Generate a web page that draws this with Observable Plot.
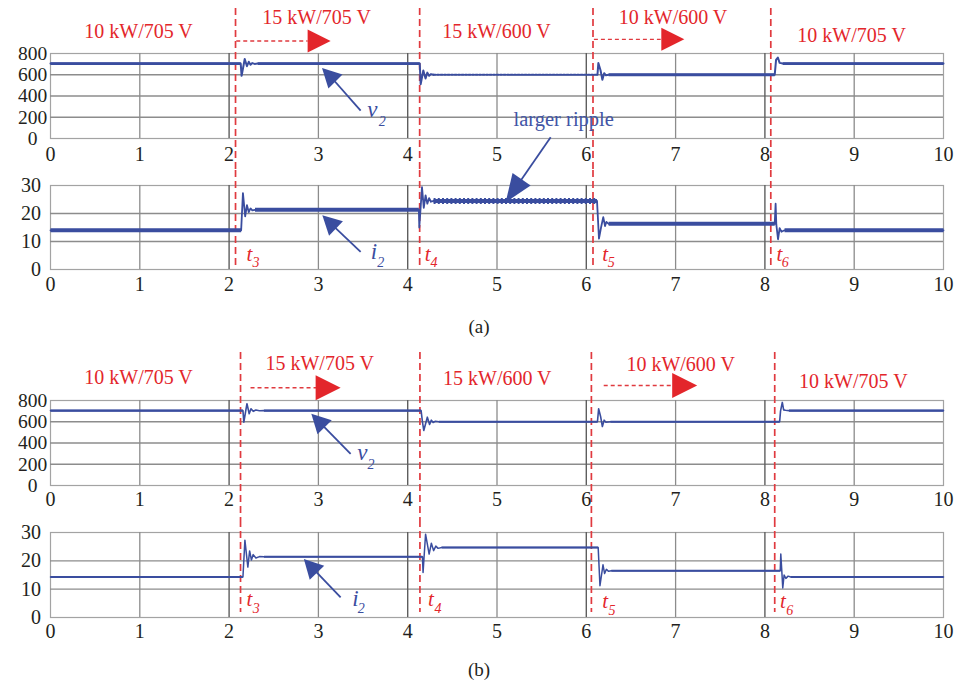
<!DOCTYPE html>
<html><head><meta charset="utf-8">
<script src="https://cdn.jsdelivr.net/npm/d3@7"></script>
<script src="https://cdn.jsdelivr.net/npm/@observablehq/plot@0.6"></script>
<style>
body{margin:0;background:#fff;}
#wrap{position:relative;width:955px;height:688px;font-family:"Liberation Serif",serif;overflow:hidden;}
#wrap > div.panel{position:absolute;left:0;width:955px;}
.cap{position:absolute;left:0;width:958px;text-align:center;font-size:19px;line-height:19px;color:#231f20;}
g[aria-label="vtick"] text{letter-spacing:3px;}
</style></head><body><div id="wrap"></div>
<script>
// ---------- tick labels ----------
const xTicks = [0,1,2,3,4,5,6,7,8,9,10];
const vTicks = [0,200,400,600,800];
const iTicks = [0,10,20,30];
const switchTimes = [2,4,6,8];

// ---------- event (red dashed) times ----------
const eventsA = [2.072, 4.134, 6.075, 8.066];
const eventsB = [2.128, 4.137, 6.057, 8.11];

// ---------- (a) series: time [s], v2 [V] / i2 [A] ----------
const aVolt = [[0,705],[2.13,705],[2.14,590],[2.175,748],[2.2,680],[2.22,722],[2.24,695],[2.26,710],[2.285,702],[2.32,705],
  [4.135,705],[4.145,510],[4.175,640],[4.2,565],[4.22,620],[4.24,590],[4.26,606],[4.29,600],
  [6.125,600],[6.135,710],[6.16,640],[6.18,552],[6.2,615],[6.22,595],[6.25,600],
  [8.11,600],[8.125,740],[8.145,762],[8.165,712],[8.2,705],[10,705]];
const aCurr = [[0,14],[2.135,14],[2.155,27.3],[2.18,19],[2.2,23],[2.22,20.5],[2.24,21.8],[2.26,21.1],[2.29,21.3],
  [4.125,21.3],[4.13,15],[4.16,29.4],[4.18,22],[4.2,26.5],[4.22,23.5],[4.24,25.5],[4.26,24.2],[4.29,24.5],
  [6.12,24.5],[6.142,11],[6.165,15],[6.19,18.7],[6.21,15.5],[6.225,17],[6.25,16.3],
  [8.11,16.3],[8.12,23.5],[8.128,16],[8.147,10.8],[8.165,14.8],[8.185,13.5],[8.22,14],[10,14]];
const aRipple = [4.29, 6.125];

// ---------- (b) series ----------
const bVolt = [[0,705],[2.155,705],[2.165,596],[2.2,770],[2.225,675],[2.245,722],[2.27,698],[2.3,710],[2.34,703],[2.39,705],
  [4.15,705],[4.165,600],[4.18,518],[4.22,643],[4.245,575],[4.265,615],[4.285,593],[4.31,604],[4.35,600],
  [6.125,600],[6.138,722],[6.16,650],[6.18,555],[6.2,615],[6.22,595],[6.27,600],
  [8.165,600],[8.175,700],[8.195,782],[8.21,712],[8.23,708],[8.27,705],[10,705]];
const bCurr = [[0,14.3],[2.155,14.3],[2.177,27.3],[2.21,17.8],[2.23,23.5],[2.25,20.3],[2.27,22.2],[2.3,21],[2.34,21.5],[2.39,21.4],
  [4.165,21.4],[4.172,15.9],[4.2,29.4],[4.24,22.4],[4.265,26.2],[4.29,23.6],[4.315,25.2],[4.34,24.4],[4.38,24.7],
  [6.133,24.7],[6.153,11.2],[6.187,18.6],[6.205,15.5],[6.225,17],[6.25,16.3],[6.28,16.5],
  [8.172,16.5],[8.178,22.4],[8.19,16],[8.2,10.4],[8.215,15],[8.235,13.8],[8.26,14.6],[8.29,14.3],[10,14.3]];

// ---------- annotations ----------
const stageA = [
  {label:"10 kW/705 V", t:0.986, v:1002},{label:"15 kW/705 V", t:2.98, v:1139},
  {label:"15 kW/600 V", t:4.994, v:1002},{label:"10 kW/600 V", t:6.971, v:1139},
  {label:"10 kW/705 V", t:8.971, v:973}];
const stageB = [
  {label:"10 kW/705 V", t:0.986, v:1012},{label:"15 kW/705 V", t:3.015, v:1145},
  {label:"15 kW/600 V", t:5.003, v:1007},{label:"10 kW/600 V", t:7.057, v:1142},
  {label:"10 kW/705 V", t:8.99, v:981}];
const redArrowsA = [{t1:2.08, t2:2.879, ht:2.965, v:917},{t1:6.085, t2:6.833, ht:6.926, v:933}];
const redArrowsB = [{t1:2.24, t2:2.988, ht:3.062, v:920},{t1:6.195, t2:6.964, ht:7.055, v:941}];

const arrowAV = [{x1:3.473, y1:263, x2:3.141, y2:579, angle:-45}];
const arrowAI = [{x1:3.473, y1:6.26, x2:3.146, y2:16.2, angle:-46}];
const arrowBV = [{x1:3.361, y1:298, x2:3.02, y2:590, angle:-44.5}];
const arrowBI = [{x1:3.249, y1:7.06, x2:2.935, y2:17.4, angle:-43.7}];
const arrowRipple = [{x1:5.601, y1:47.2, x2:5.216, y2:29.5, angle:-145.3}];
const rippleNote = [{label:"larger ripple", t:5.747, v:181}];

const symAV = [{s:"v", sub:"2", t:3.548, v:269, st:3.675, sv:160}];
const symAI = [{s:"i", sub:"2", t:3.585, v:6.55, st:3.66, sv:2.5}];
const symBV = [{s:"v", sub:"2", t:3.436, v:305, st:3.55, sv:200}];
const symBI = [{s:"i", sub:"2", t:3.38, v:6.74, st:3.44, sv:3.3}];
const tLabA = [{s:"t",sub:"3",t:2.196,v:5.5,st:2.262,sv:2.45},{s:"t",sub:"4",t:4.19,v:5.5,st:4.254,sv:2.45},
               {s:"t",sub:"5",t:6.18,v:5.4,st:6.241,sv:2.35},{s:"t",sub:"6",t:8.129,v:5.4,st:8.19,sv:2.35}];
const tLabB = [{s:"t",sub:"3",t:2.196,v:6.3,st:2.264,sv:3.1},{s:"t",sub:"4",t:4.227,v:6.3,st:4.299,sv:3.1},
               {s:"t",sub:"5",t:6.18,v:5.8,st:6.248,sv:2.6},{s:"t",sub:"6",t:8.17,v:5.8,st:8.239,sv:2.6}];

// ---------- styles ----------
const blue = "#3a4d9f", red = "#e3262b", redDash = "#e03a3f", gridC = "#8c8c8c", darkC = "#5e5e5e";
function head(len, wid){ return {draw(ctx){ ctx.moveTo(0,-2*len/3); ctx.lineTo(wid/2,len/3); ctx.lineTo(-wid/2,len/3); ctx.closePath(); }}; }
function steady(series, minDt){ const out=[]; for(let i=0;i<series.length-1;i++){ const a=series[i], b=series[i+1]; if(a[1]===b[1] && b[0]-a[0]>minDt) out.push({t1:a[0],t2:b[0],y:a[1]}); } return out; }
function seg(series, win){ return series.map(d=>({t:d[0], y:d[1], z: d[0]<=win[0]?0:(d[0]>=win[1]?2:1)})); }

const wrap = document.getElementById("wrap");
function panel(o){
  const inner = xTicks.filter(t=>t>0&&t<10&&!switchTimes.includes(t));
  const marks = [
    Plot.frame({stroke:"#a3a3a3", strokeWidth:1.2}),
    Plot.ruleY(o.ticks.slice(1,-1), {stroke:gridC, strokeWidth:1.4}),
    Plot.ruleX(inner, {stroke:gridC, strokeWidth:1.3}),
    Plot.ruleX(switchTimes, {stroke:darkC, strokeWidth:1.4}),
    Plot.ruleX(o.events, {stroke:redDash, strokeWidth:1.7, strokeDasharray:"7,4", insetTop:o.evTop, insetBottom:o.evBottom}),
    ...o.marks,
    Plot.text(o.ticks, {y:d=>d, text:d=>String(d), frameAnchor:"left", dx:o.yDx, textAnchor:o.yAnchor, fontSize:o.yFs, fill:"#231f20", ariaLabel:o.yAria}),
    Plot.text(xTicks, {x:d=>d, text:d=>String(d), frameAnchor:"bottom", dy:o.xDy, fontSize:20, fill:"#231f20"})
  ];
  const svg = Plot.plot({
    width:955, height:o.height, marginLeft:50, marginRight:12, marginTop:o.mt, marginBottom:o.mb,
    x:{domain:[0,10], axis:null, label:null},
    y:{domain:o.domain, axis:null, label:null},
    style:"background:transparent;overflow:visible;font-family:'Liberation Serif',serif;font-size:19px;color:#231f20;",
    marks
  });
  const div = document.createElement("div"); div.className="panel"; div.style.top=o.top+"px"; div.appendChild(svg); wrap.appendChild(div);
}
function stageMarks(stages, arrows, len){
  return [
    Plot.text(stages, {x:"t", y:"v", text:"label", fill:red, fontSize:20}),
    Plot.link(arrows, {x1:"t1", x2:"t2", y1:"v", y2:"v", stroke:redDash, strokeWidth:1.4, strokeDasharray:"4,3"}),
    Plot.dot(arrows, {x:"ht", y:"v", r:5, symbol:head(len,len), rotate:90, fill:red, stroke:"none"})
  ];
}
function blueArrow(a, len, wid){
  return [
    Plot.link(a, {x1:"x1", y1:"y1", x2:"x2", y2:"y2", stroke:blue, strokeWidth:1.8}),
    Plot.dot(a, {x:"x2", y:"y2", r:5, symbol:head(len,wid), rotate:"angle", fill:blue, stroke:"none"})
  ];
}
function symLabels(arr, color, fs, subFs){
  return [
    Plot.text(arr, {x:"t", y:"v", text:"s", fill:color, fontSize:fs, fontStyle:"italic", textAnchor:"start"}),
    Plot.text(arr, {x:"st", y:"sv", text:"sub", fill:color, fontSize:subFs, fontStyle:"italic", textAnchor:"start"})
  ];
}

// ----- (a) voltage -----
const aV = seg(aVolt, aRipple);
panel({top:0, height:170, mt:53, mb:32, domain:[0,800], ticks:vTicks, events:eventsA, evTop:-45, evBottom:-32,
  yDx:-18, yAnchor:"middle", yFs:19.5, yAria:"vtick", xDy:22,
  marks:[
    Plot.line(aV.filter(d=>d.z!==1 || d.t===aRipple[0] || d.t===aRipple[1]).map(d=>({...d, z: d.z===1 ? (d.t===aRipple[0]?0:2) : d.z})), {x:"t", y:"y", z:"z", stroke:blue, strokeWidth:2}),
    Plot.link(steady(aVolt,0.3).filter(s=>!(s.t1>=aRipple[0]&&s.t2<=aRipple[1])), {x1:"t1", x2:"t2", y1:"y", y2:"y", stroke:blue, strokeWidth:2.8}),
    Plot.line(aV.filter(d=>d.t>=aRipple[0]&&d.t<=aRipple[1]), {x:"t", y:"y", stroke:blue, strokeWidth:2, strokeDasharray:"2,1.5"}),
    ...stageMarks(stageA, redArrowsA, 23),
    ...blueArrow(arrowAV, 19, 20),
    ...symLabels(symAV, blue, 23, 14),
    Plot.text(rippleNote, {x:"t", y:"v", text:"label", fill:"#4255a6", fontSize:20.5})
  ]});

// ----- (a) current -----
const aRip = steady(aCurr,0.3).filter(s=>s.t1>=aRipple[0]-0.01);
panel({top:170, height:134, mt:15, mb:35, domain:[0,30], ticks:iTicks, events:eventsA, evTop:-15, evBottom:4,
  yDx:-9.5, yAnchor:"end", yFs:20, yAria:"itick", xDy:21,
  marks:[
    Plot.line(aCurr, {x:d=>d[0], y:d=>d[1], stroke:blue, strokeWidth:1.8}),
    Plot.link(steady(aCurr,0.3), {x1:"t1", x2:"t2", y1:"y", y2:"y", stroke:blue, strokeWidth:4}),
    Plot.link(aRip.filter(s=>s.t2<=aRipple[1]+0.01), {x1:"t1", x2:"t2", y1:"y", y2:"y", stroke:blue, strokeWidth:6, strokeDasharray:"2,2.2"}),
    ...symLabels(tLabA, red, 21, 14),
    ...blueArrow(arrowAI, 19, 20),
    ...symLabels(symAI, blue, 23, 14),
    ...blueArrow(arrowRipple, 28, 22)
  ]});

// ----- (b) voltage -----
panel({top:340, height:180, mt:60, mb:35, domain:[0,800], ticks:vTicks, events:eventsB, evTop:-48, evBottom:-35,
  yDx:-18, yAnchor:"middle", yFs:19.5, yAria:"vtick", xDy:20,
  marks:[
    Plot.line(bVolt, {x:d=>d[0], y:d=>d[1], stroke:blue, strokeWidth:1.6}),
    Plot.link(steady(bVolt,0.3), {x1:"t1", x2:"t2", y1:"y", y2:"y", stroke:blue, strokeWidth:2.2}),
    ...stageMarks(stageB, redArrowsB, 25),
    ...blueArrow(arrowBV, 19, 20),
    ...symLabels(symBV, blue, 23, 14)
  ]});

// ----- (b) current -----
panel({top:520, height:132, mt:12, mb:35, domain:[0,30], ticks:iTicks, events:eventsB, evTop:-12, evBottom:5,
  yDx:-9.5, yAnchor:"end", yFs:20, yAria:"itick", xDy:20,
  marks:[
    Plot.line(bCurr, {x:d=>d[0], y:d=>d[1], stroke:blue, strokeWidth:1.5}),
    Plot.link(steady(bCurr,0.3), {x1:"t1", x2:"t2", y1:"y", y2:"y", stroke:blue, strokeWidth:2}),
    ...symLabels(tLabB, red, 21, 14),
    ...blueArrow(arrowBI, 19, 20),
    ...symLabels(symBI, blue, 23, 14)
  ]});

const capA = document.createElement("div"); capA.className="cap"; capA.style.top="317px"; capA.textContent="(a)"; wrap.appendChild(capA);
const capB = document.createElement("div"); capB.className="cap"; capB.style.top="660px"; capB.textContent="(b)"; wrap.appendChild(capB);
</script></body></html>
